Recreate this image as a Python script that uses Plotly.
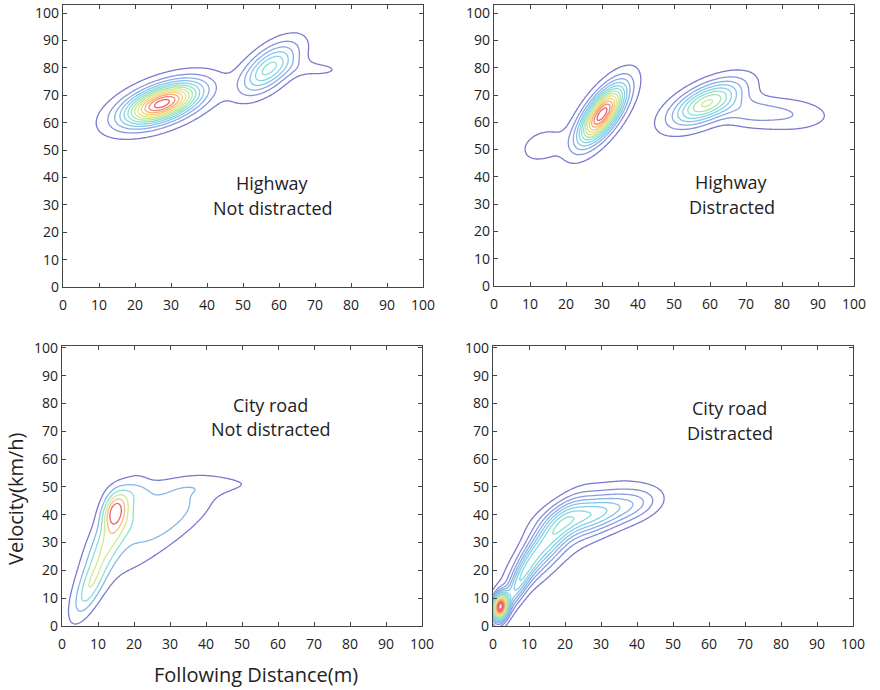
import numpy as np
import plotly.graph_objects as go

# ---- axis ticks ----
x_ticks = [0, 10, 20, 30, 40, 50, 60, 70, 80, 90, 100]
y_ticks = [0, 10, 20, 30, 40, 50, 60, 70, 80, 90, 100]

# ---- density components: centre x, centre y, spread x, spread y, correlation, peak ----
# Highway, not distracted
hw_nd_cx = [27.5, 27.0, 57.0, 59.0, 71.0]
hw_nd_cy = [67.0, 67.0, 79.5, 82.0, 79.5]
hw_nd_sx = [7.0, 11.5, 5.0, 6.5, 6.5]
hw_nd_sy = [5.0, 8.5, 6.0, 7.5, 2.5]
hw_nd_rho = [0.55, 0.5, 0.6, 0.6, -0.1]
hw_nd_peak = [0.9, 0.1, 0.38, 0.08, 0.07]
hw_nd_levels = (0.06, 0.96, 0.075)

# Highway, distracted
hw_d_cx = [30.0, 13.5, 59.0, 80.0, 30.0, 70.0]
hw_d_cy = [63.0, 51.5, 67.0, 63.0, 63.0, 64.0]
hw_d_sx = [4.2, 4.5, 6.5, 8.5, 6.0, 5.0]
hw_d_sy = [7.0, 4.5, 5.5, 4.0, 10.0, 3.5]
hw_d_rho = [0.7, 0.3, 0.6, -0.1, 0.7, 0.0]
hw_d_peak = [0.92, 0.09, 0.58, 0.13, 0.08, 0.09]
hw_d_levels = (0.05, 0.95, 0.075)

# City road, not distracted
cr_nd_cx = [14.5, 13.0, 27.0, 41.0, 7.5, 22.0, 21.0]
cr_nd_cy = [42.0, 31.0, 40.0, 50.5, 13.0, 28.0, 47.5]
cr_nd_sx = [2.3, 5.0, 9.5, 15.0, 3.0, 10.0, 4.0]
cr_nd_sy = [4.5, 12.0, 8.0, 2.5, 7.0, 12.0, 3.0]
cr_nd_rho = [0.3, 0.8, 0.6, 0.3, 0.7, 0.8, 0.0]
cr_nd_peak = [0.58, 0.42, 0.27, 0.085, 0.3, 0.1, 0.1]
cr_nd_levels = (0.1, 0.85, 0.15)

# City road, distracted
cr_d_cx = [2.0, 7.0, 15.0, 27.0, 40.0, 20.0]
cr_d_cy = [7.0, 15.0, 30.0, 40.0, 44.0, 32.0]
cr_d_sx = [1.3, 3.5, 5.5, 8.0, 5.0, 12.0]
cr_d_sy = [3.0, 8.0, 9.0, 5.0, 4.0, 14.0]
cr_d_rho = [0.2, 0.85, 0.8, 0.45, 0.3, 0.85]
cr_d_peak = [1.0, 0.25, 0.3, 0.3, 0.1, 0.07]
cr_d_levels = (0.04, 0.94, 0.05)

# ---- annotation labels ----
panel_titles = [("Highway", "Not distracted"), ("Highway", "Distracted"),
                ("City road", "Not distracted"), ("City road", "Distracted")]
x_title = "Following Distance(m)"
y_title = "Velocity(km/h)"

line_scale = [[0.0, "#7b78cf"], [0.12, "#8b9fe2"], [0.25, "#85c6ea"], [0.38, "#84dde0"],
              [0.5, "#a6e4b0"], [0.62, "#d9ea8a"], [0.72, "#f5dc7c"], [0.84, "#f8ad78"],
              [1.0, "#ee5f66"]]

gx = np.linspace(0, 100, 251)
gy = np.linspace(0, 104, 261)
GX, GY = np.meshgrid(gx, gy)


def density(cx, cy, sx, sy, rho, peak):
    z = np.zeros_like(GX)
    for mx, my, a, b, r, w in zip(cx, cy, sx, sy, rho, peak):
        u = (GX - mx) / a
        v = (GY - my) / b
        q = (u * u - 2 * r * u * v + v * v) / (1 - r * r)
        z += w * np.exp(-0.5 * q)
    return z / z.max()


panels = [
    (hw_nd_cx, hw_nd_cy, hw_nd_sx, hw_nd_sy, hw_nd_rho, hw_nd_peak, hw_nd_levels),
    (hw_d_cx, hw_d_cy, hw_d_sx, hw_d_sy, hw_d_rho, hw_d_peak, hw_d_levels),
    (cr_nd_cx, cr_nd_cy, cr_nd_sx, cr_nd_sy, cr_nd_rho, cr_nd_peak, cr_nd_levels),
    (cr_d_cx, cr_d_cy, cr_d_sx, cr_d_sy, cr_d_rho, cr_d_peak, cr_d_levels),
]

W, H = 880, 690
x_doms = [(63, 423), (494, 854), (62, 422), (493, 853)]
y_doms = [(5, 287), (5, 286), (346, 626), (346, 626)]
y_tops = [103, 103, 100.7, 100.7]
label_pos = [(58.3, 38.0, 29.0), (66.0, 38.0, 29.0), (58.0, 79.5, 70.9), (65.8, 78.4, 69.4)]

fig = go.Figure()
font_family = "Open Sans, Lato, sans-serif"

for i, (cx, cy, sx, sy, rho, pk, lv) in enumerate(panels):
    z = density(cx, cy, sx, sy, rho, pk)
    start, end, size = lv
    ax = "" if i == 0 else str(i + 1)
    fig.add_trace(go.Contour(
        x=gx, y=gy, z=z,
        xaxis="x" + ax, yaxis="y" + ax,
        contours=dict(coloring="lines", start=start, end=end, size=size),
        line=dict(width=1.3, smoothing=1),
        colorscale=line_scale, zmin=start, zmax=end, zauto=False,
        showscale=False, hoverinfo="skip",
    ))
    xd = x_doms[i]
    yd = y_doms[i]
    axis_common = dict(showgrid=False, zeroline=False, showline=True, linecolor="#444",
                       linewidth=1.4, mirror="ticks", ticks="inside", ticklen=4,
                       tickwidth=1.2, tickcolor="#444", automargin=False,
                       tickfont=dict(family=font_family, size=14, color="#222"))
    fig.layout["xaxis" + ax] = dict(domain=[xd[0] / W, xd[1] / W], range=[0, 100],
                                    tickvals=x_ticks, anchor="y" + ax,
                                    ticklabelstandoff=5, **axis_common)
    fig.layout["yaxis" + ax] = dict(domain=[1 - yd[1] / H, 1 - yd[0] / H], range=[0, y_tops[i]],
                                    tickvals=y_ticks, anchor="x" + ax, **axis_common)
    lx, ly1, ly2 = label_pos[i]
    for txt, ly in zip(panel_titles[i], (ly1, ly2)):
        fig.add_annotation(x=lx, y=ly, xref="x" + ax, yref="y" + ax, text=txt,
                           xanchor="center", yanchor="middle", showarrow=False,
                           font=dict(family=font_family, size=18, color="#222"))

fig.add_annotation(x=15 / W, y=1 - 499 / H, xref="paper", yref="paper", text=y_title,
                   textangle=-90, showarrow=False, xanchor="center", yanchor="middle",
                   font=dict(family=font_family, size=20, color="#222"))
fig.add_annotation(x=256 / W, y=1 - 674 / H, xref="paper", yref="paper", text=x_title,
                   showarrow=False, xanchor="center", yanchor="middle",
                   font=dict(family=font_family, size=20, color="#222"))

fig.update_layout(width=W, height=H, margin=dict(l=0, r=0, t=0, b=0),
                  paper_bgcolor="white", plot_bgcolor="white", showlegend=False)

fig.write_html("out.html", config={"displayModeBar": False},
               post_script="document.body.style.margin='0';document.body.style.padding='0';")
